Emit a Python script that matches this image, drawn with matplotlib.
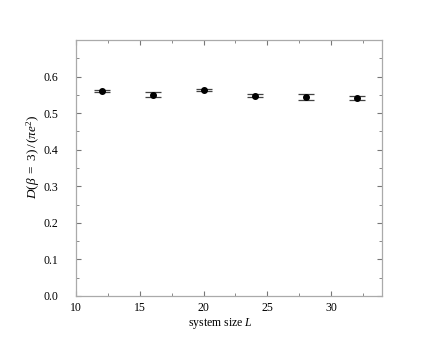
import matplotlib
matplotlib.use("Agg")
import matplotlib.pyplot as plt
from matplotlib.ticker import MultipleLocator, FormatStrFormatter

L = [12, 16, 20, 24, 28, 32]
D = [0.560, 0.550, 0.5625, 0.547, 0.544, 0.542]
err = [0.002, 0.007, 0.003, 0.004, 0.009, 0.006]

plt.rcParams['font.family'] = ['Liberation Serif', 'DejaVu Serif']
plt.rcParams['mathtext.fontset'] = 'custom'
plt.rcParams['mathtext.rm'] = 'Liberation Serif'
plt.rcParams['mathtext.it'] = 'Liberation Serif:italic'

fig = plt.figure(figsize=(4.36, 3.62), dpi=100)
ax = fig.add_axes([76/436, 66/362, 306/436, 256/362])

ax.errorbar(L, D, yerr=err, fmt='o', color='black', ms=4,
            ecolor='#444444', elinewidth=0.8, capsize=5.5, capthick=0.9)

ax.set_xlim(10, 34)
ax.set_ylim(0, 0.7)
ax.set_xticks([10, 15, 20, 25, 30])
ax.set_yticks([0.0, 0.1, 0.2, 0.3, 0.4, 0.5, 0.6])
ax.xaxis.set_minor_locator(MultipleLocator(2.5))
ax.yaxis.set_minor_locator(MultipleLocator(0.05))
ax.yaxis.set_major_formatter(FormatStrFormatter('%.1f'))

for s in ax.spines.values():
    s.set_color('#aaaaaa')
    s.set_linewidth(0.9)

ax.tick_params(which='both', direction='in', top=True, right=True,
               color='#777777', labelsize=8.5)
ax.tick_params(which='major', length=3.5)
ax.tick_params(which='minor', length=2)
ax.tick_params(axis='x', pad=4)
ax.tick_params(axis='y', pad=13)

ax.set_xlabel(r'system size $L$', fontsize=8.5)
ax.set_ylabel(r'$D(\beta\ =\ 3)\,/\,(\pi e^2)$', fontsize=9.5)
ax.xaxis.set_label_coords((220 - 76) / 306, -(316 - 296) / 256)
ax.yaxis.set_label_coords((42 - 76) / 306, (296 - 157) / 256)

fig.savefig('out.png', dpi=100)
